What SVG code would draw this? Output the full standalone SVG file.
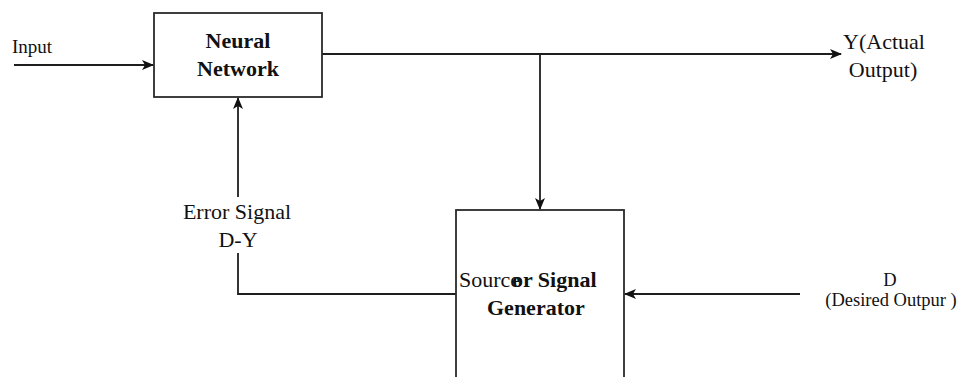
<svg xmlns="http://www.w3.org/2000/svg" width="963" height="377" viewBox="0 0 963 377">
  <style>
    .box { fill: #ffffff; stroke: #2a2a2a; stroke-width: 1.8; }
    .wire { fill: none; stroke: #1e1e1e; stroke-width: 1.8; }
    .t { font-family: "Liberation Serif", "Times New Roman", serif; font-size: 22px; fill: #111; }
    .b { font-weight: bold; }
    .mid { text-anchor: middle; }
    .s { font-size: 18.5px; }
  </style>
  <defs>
    <marker id="arrow" viewBox="0 0 12 10" refX="11" refY="5" markerWidth="12" markerHeight="10" markerUnits="userSpaceOnUse" orient="auto">
      <path d="M0,0 L12,5 L0,10 L3,5 Z" fill="#111"/>
    </marker>
  </defs>
  <rect width="963" height="377" fill="#ffffff"/>

  <g id="connectors">
    <!-- input into the network -->
    <line class="wire" x1="14" y1="65" x2="153" y2="65" marker-end="url(#arrow)"/>
    <!-- network output -->
    <line class="wire" x1="322" y1="54" x2="841" y2="54" marker-end="url(#arrow)"/>
    <!-- output tapped down to the generator -->
    <line class="wire" x1="540" y1="54" x2="540" y2="209" marker-end="url(#arrow)"/>
    <!-- desired output into the generator -->
    <line class="wire" x1="800" y1="294" x2="625" y2="294" marker-end="url(#arrow)"/>
    <!-- error feedback to the network -->
    <polyline class="wire" points="456,294 238,294 238,253"/>
    <line class="wire" x1="238" y1="197" x2="238" y2="98" marker-end="url(#arrow)"/>
  </g>

  <g id="neural-network">
    <rect class="box" x="154" y="13" width="168" height="84"/>
    <text class="t b mid" x="238" y="48">Neural</text>
    <text class="t b mid" x="238" y="76">Network</text>
  </g>

  <g id="signal-generator">
    <rect class="box" x="456" y="210" width="168" height="180"/>
    <text class="t" x="459" y="287">Source</text>
    <text class="t b" x="512" y="287">or Signal</text>
    <text class="t b" x="487" y="315">Generator</text>
  </g>

  <g id="input-label">
    <text class="t" x="12" y="53" style="font-size:19px">Input</text>
  </g>

  <g id="output-label">
    <text class="t mid" x="884" y="49">Y(Actual</text>
    <text class="t mid" x="883" y="77">Output)</text>
  </g>

  <g id="desired-label">
    <text class="t mid s" x="890" y="286">D</text>
    <text class="t mid s" x="891" y="306">(Desired Outpur )</text>
  </g>

  <g id="error-label">
    <text class="t mid" x="237" y="219">Error Signal</text>
    <text class="t mid" x="238" y="247">D-Y</text>
  </g>
</svg>
